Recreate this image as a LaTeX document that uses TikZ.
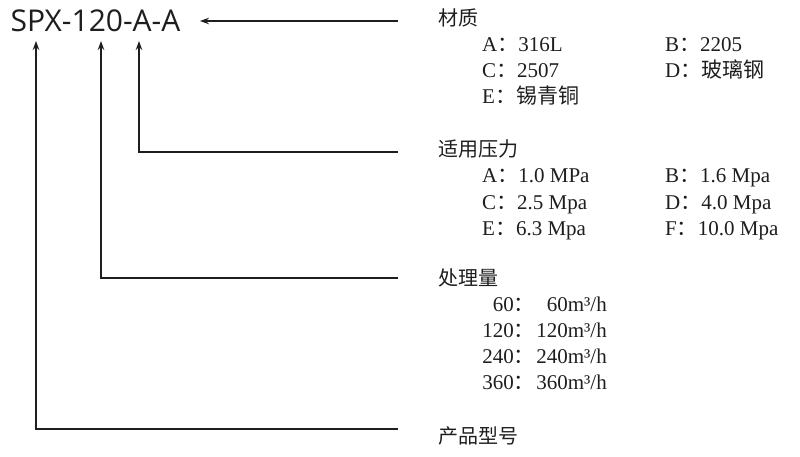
\documentclass[tikz,border=0pt]{standalone}
\usepackage{fontspec}
\setmainfont{Liberation Serif}
\newfontfamily\cjk{Noto Sans CJK SC}
\newfontfamily\titlefont{Open Sans}
\usetikzlibrary{arrows.meta}
\definecolor{ink}{HTML}{1E1E1E}
\begin{document}
\begin{tikzpicture}[x=1pt,y=-1pt,
  conn/.style={draw=ink,line width=1.3pt},
  arr/.style={conn,-{Stealth[length=9pt,width=6.5pt]}},
  head/.style={anchor=base west,inner sep=0pt,font=\cjk\fontsize{20}{20}\selectfont,text=ink},
  entry/.style={anchor=base west,inner sep=0pt,font=\fontsize{21}{21}\selectfont,text=ink},
  entryr/.style={entry,anchor=base east}]
\useasboundingbox (0,0) rectangle (800,457);
\fill[white] (0,0) rectangle (800,457);
% title
\node[anchor=base west,inner sep=0pt,font=\titlefont\fontsize{30}{30}\selectfont,text=ink] (title) at (10.5,32) {SPX-120-A-A};
\coordinate (t1) at (36,41);
\coordinate (t2) at (101,41);
\coordinate (t3) at (139,41);
\coordinate (t4) at (200,21);
% headings
\node[head] (h1) at (438,26) {材质};
\node[head] (h2) at (438,157) {适用压力};
\node[head] (h3) at (438,285) {处理量};
\node[head] (h4) at (438,443) {产品型号};
\coordinate (e1) at (398,21);
\coordinate (e2) at (398,152);
\coordinate (e3) at (398,278);
\coordinate (e4) at (398,429);
% connectors
\draw[arr] (e1) -- (t4);
\draw[arr] (e2) -| (t3);
\draw[arr] (e3) -| (t2);
\draw[arr] (e4) -| (t1);
% material
\node[entry] (m1) at (482,52) {A{\cjk ：}316L};
\node[entry] (m2) at (665,52) {B{\cjk ：}2205};
\node[entry] (m3) at (482,78) {C{\cjk ：}2507};
\node[entry] (m4) at (665,78) {D{\cjk ：玻璃钢}};
\node[entry] (m5) at (482,104) {E{\cjk ：锡青铜}};
% pressure
\node[entry] (p1) at (482,183) {A{\cjk ：}1.0 MPa};
\node[entry] (p2) at (665,183) {B{\cjk ：}1.6 Mpa};
\node[entry] (p3) at (482,209) {C{\cjk ：}2.5 Mpa};
\node[entry] (p4) at (665,209) {D{\cjk ：}4.0 Mpa};
\node[entry] (p5) at (482,235) {E{\cjk ：}6.3 Mpa};
\node[entry] (p6) at (665,235) {F{\cjk ：}10.0 Mpa};
% flow
\node[entryr] (f1) at (535,311) {60{\cjk ：}};
\node[entryr] (f2) at (535,337) {120{\cjk ：}};
\node[entryr] (f3) at (535,363) {240{\cjk ：}};
\node[entryr] (f4) at (535,389) {360{\cjk ：}};
\node[entryr] (g1) at (607,311) {60m³/h};
\node[entryr] (g2) at (607,337) {120m³/h};
\node[entryr] (g3) at (607,363) {240m³/h};
\node[entryr] (g4) at (607,389) {360m³/h};
\end{tikzpicture}
\end{document}
